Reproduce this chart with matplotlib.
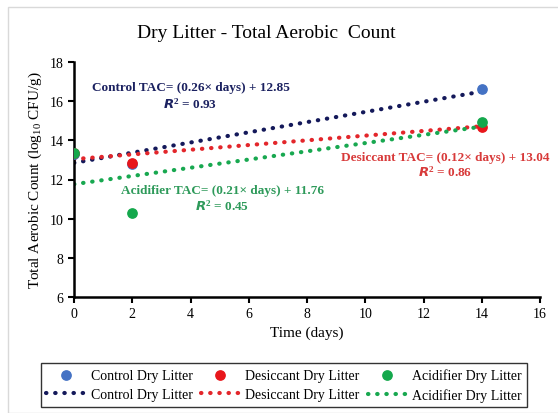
import numpy as np
import matplotlib
matplotlib.use("Agg")
from matplotlib import pyplot as plt
from matplotlib.patches import Rectangle

plt.rcParams['font.family'] = ['Liberation Serif', 'DejaVu Serif']
plt.rcParams['mathtext.fontset'] = 'custom'
plt.rcParams['mathtext.rm'] = 'Liberation Serif'
plt.rcParams['mathtext.it'] = 'Liberation Serif:italic'
plt.rcParams['mathtext.bf'] = 'Liberation Serif:bold'

days = [0, 2, 14]
control = [13.3, 12.8, 16.6]
desiccant = [13.35, 12.85, 14.7]
acidifier = [13.35, 10.3, 14.95]

names = ['Control', 'Desiccant', 'Acidifier']
slopes = [0.26, 0.12, 0.21]
intercepts = [12.85, 13.04, 11.76]
r2 = [0.93, 0.86, 0.45]

point_colors = ['#4472C4', '#E8161B', '#14A84C']
line_colors = ['#14195A', '#E3262B', '#18A850']
text_colors = ['#1B2160', '#D83A3A', '#2E9A5A']

fig = plt.figure(figsize=(5.58, 4.14), dpi=100)
fig.patches.append(Rectangle((8 / 558, 0), 1, 1 - 8 / 414, transform=fig.transFigure,
                             fill=False, edgecolor='#d9d9d9', linewidth=1))
ax = fig.add_axes([74 / 558, 1 - 298 / 414, 466 / 558, 235 / 414])

series = [control, desiccant, acidifier]
handles = []
for i in range(3):
    sc = ax.scatter(days, series[i], s=45, color=point_colors[i], zorder=3,
                    label=names[i] + ' Dry Litter')
    xs = np.array([days[0], days[-1]])
    ln, = ax.plot(xs, slopes[i] * xs + intercepts[i], linestyle=(0, (0.1, 2.1)),
                  dash_capstyle='round', linewidth=3, color=line_colors[i], zorder=2,
                  label=names[i] + ' Dry Litter')
    handles += [sc, ln]

# equation labels
label_pos = [(4.0, 16.7, 15.9), (12.75, 13.15, 12.43), (5.1, 11.45, 10.7)]
for i in range(3):
    x, y1, y2 = label_pos[i]
    ax.text(x, y1, '%s TAC= (%.2f\u00d7 days) + %.2f' % (names[i], slopes[i], intercepts[i]),
            ha='center', va='center', fontsize=9.5, fontweight='bold',
            color=text_colors[i], clip_on=False)
    ax.text(x, y2, r'$\mathbfit{R}$$\mathbf{^2}$' + ' = %.2f' % r2[i],
            ha='center', va='center', fontsize=9.5, fontweight='bold',
            color=text_colors[i], clip_on=False)

ax.set_xlim(0, 16)
ax.set_ylim(6, 18)
ax.set_xticks(range(0, 17, 2))
ax.set_yticks(range(6, 19, 2))
ax.spines['top'].set_visible(False)
ax.spines['right'].set_visible(False)
ax.spines['left'].set_linewidth(1.8)
ax.spines['bottom'].set_linewidth(1.8)
ax.tick_params(labelsize=10, length=4, width=1.5, direction='out')

ax.set_xlabel('Time (days)', fontsize=11)
ax.set_ylabel(r'Total Aerobic Count (log$_{10}$ CFU/g)', fontsize=11)
fig.text(266 / 558, 1 - 33 / 414, 'Dry Litter - Total Aerobic  Count', ha='center', va='center',
         fontsize=14)

leg = fig.legend(handles=handles, ncol=3, loc='center', bbox_to_anchor=(284 / 558, 1 - 386 / 414),
                 fontsize=10, frameon=True, fancybox=False, edgecolor='black',
                 handlelength=2.8, handletextpad=0.4, columnspacing=0.6,
                 borderpad=0.35, labelspacing=0.45)
leg.get_frame().set_linewidth(1)

fig.savefig('out.png', dpi=100)
